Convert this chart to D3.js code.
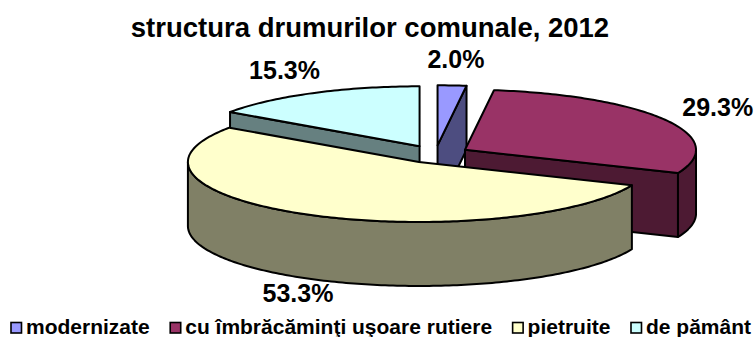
<!DOCTYPE html>
<html>
<head>
<meta charset="utf-8">
<script src="https://cdn.jsdelivr.net/npm/d3@7"></script>
<style>
  body { margin: 0; background: #fff; }
  svg { display: block; }
  text { font-family: "Liberation Sans", Arial, sans-serif; font-weight: bold; fill: #000; }
</style>
</head>
<body>
<svg id="chart" width="756" height="337"></svg>
<script>
// Road structure shares (%), clockwise from 12 o'clock
const categories = ["modernizate", "cu îmbrăcăminţi uşoare rutiere", "pietruite", "de pământ"];
const shares = [2.0, 29.3, 53.3, 15.3];
const topColors = ["#9999FF", "#993366", "#FFFFCC", "#CCFFFF"];
const sideColors = ["#4D4D80", "#4D1A33", "#808066", "#668080"];
const chartTitle = "structura drumurilor comunale, 2012";

const W = 756, H = 337;
// Oblique 3D pie geometry
const cx = 435.4, cy = 154.2;     // pie centre (top face)
const rx = 231, ry = 60;          // top ellipse radii
const depth = 64;                 // thickness of the pie
const explode = 0.148;            // slice pull-out, fraction of radius
const labelBackRx = 326, labelFrontRx = 285, labelRy = 95;
const legendStretch = 1.05;

const svg = d3.select("#chart");

const data = categories.map((name, i) => ({ name, value: shares[i], i }));
const arcs = d3.pie().sort(null).value(d => d.value)(data);

// point on a slice's ellipse, angle clockwise from 12 o'clock
function pt(ax, ay, a, dz) {
  return [ax + rx * Math.sin(a), ay - ry * Math.cos(a) + (dz || 0)];
}
function rimPoints(ax, ay, a0, a1, dz) {
  const n = Math.max(2, Math.ceil(Math.abs(a1 - a0) / (Math.PI / 180)));
  return d3.range(n + 1).map(k => pt(ax, ay, a0 + (a1 - a0) * k / n, dz));
}
const line = d3.line();

arcs.forEach(d => {
  const mid = (d.startAngle + d.endAngle) / 2;
  d.mid = mid;
  d.ax = cx + explode * rx * Math.sin(mid);
  d.ay = cy - explode * ry * Math.cos(mid);
  d.front = -Math.cos(mid);
});

const slicesG = svg.append("g");
// paint back slices first
const order = arcs.slice().sort((a, b) => a.front - b.front);

function face(g, pts, fill) {
  g.append("path").attr("d", line(pts) + "Z").attr("fill", fill)
    .attr("stroke", "#000").attr("stroke-width", 2).attr("stroke-linejoin", "round");
}

order.forEach(d => {
  const g = slicesG.append("g");
  const fillSide = sideColors[d.data.i];

  // radial cut faces turned toward the viewer
  [[d.startAngle, d.startAngle - Math.PI / 2], [d.endAngle, d.endAngle + Math.PI / 2]].forEach(([a, n]) => {
    if (Math.cos(n) < -1e-6) {
      face(g, [[d.ax, d.ay], pt(d.ax, d.ay, a), pt(d.ax, d.ay, a, depth), [d.ax, d.ay + depth]], fillSide);
    }
  });

  // outer curved wall, front half only
  const t0 = Math.max(d.startAngle, Math.PI / 2), t1 = Math.min(d.endAngle, 3 * Math.PI / 2);
  if (t1 > t0) {
    face(g, rimPoints(d.ax, d.ay, t0, t1).concat(rimPoints(d.ax, d.ay, t1, t0, depth)), fillSide);
  }

  // top face
  face(g, [[d.ax, d.ay]].concat(rimPoints(d.ax, d.ay, d.startAngle, d.endAngle)), topColors[d.data.i]);
});

// percentage labels
const fmt = v => v.toFixed(1) + "%";
arcs.forEach(d => {
  const s = Math.sin(d.mid), c = Math.cos(d.mid);
  const x = cx + (c < 0 ? labelFrontRx : labelBackRx) * s;
  const y = cy - labelRy * c + (c < 0 ? -c * depth : 0) + 9;
  svg.append("text")
    .attr("x", x).attr("y", y)
    .attr("text-anchor", "middle")
    .style("font-size", "25px")
    .text(fmt(d.data.value));
});

// title
svg.append("text")
  .attr("x", 370).attr("y", 36.5)
  .attr("text-anchor", "middle")
  .style("font-size", "27.5px")
  .text(chartTitle);

// legend
const legend = svg.append("g");
const items = categories.map((name, i) => {
  const g = legend.append("g");
  g.append("rect").attr("width", 10.5).attr("height", 10.5).attr("y", -11.5)
    .attr("fill", topColors[i]).attr("stroke", "#000").attr("stroke-width", 1.6);
  const t = g.append("text").attr("transform", `translate(15,0) scale(${legendStretch},1)`)
    .style("font-size", "20px").text(name);
  const w = 15 + t.node().getComputedTextLength() * legendStretch;
  return { g, w };
});
const legendStart = 11, legendEnd = 751;
const total = d3.sum(items, d => d.w);
const gap = (legendEnd - legendStart - total) / (items.length - 1);
let lx = legendStart;
items.forEach(it => {
  it.g.attr("transform", `translate(${lx},334)`);
  lx += it.w + gap;
});
</script>
</body>
</html>
